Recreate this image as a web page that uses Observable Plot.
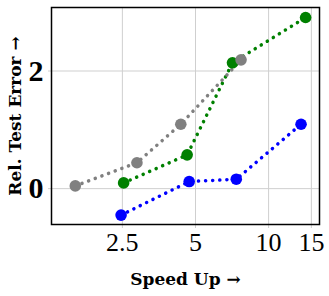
<!DOCTYPE html>
<html>
<head>
<meta charset="utf-8">
<script src="https://cdn.jsdelivr.net/npm/d3@7"></script>
<script src="https://cdn.jsdelivr.net/npm/@observablehq/plot@0.6"></script>
<style>
  body { margin: 0; background: #fff; }
  svg { font-family: "Liberation Serif", serif; }
</style>
</head>
<body>
<div id="chart"></div>
<script>
const xTicks = [2.5, 5, 10, 15];
const yTicks = [0, 2];

const grayX = [1.6, 2.87, 4.35, 7.7];
const grayY = [0.046, 0.44, 1.095, 2.19];
const greenX = [2.53, 4.62, 7.1, 14.2];
const greenY = [0.097, 0.574, 2.14, 2.91];
const blueX = [2.47, 4.71, 7.36, 13.6];
const blueY = [-0.45, 0.12, 0.16, 1.095];

const seriesNames = ["blue", "green", "gray"];
const seriesColors = ["#1c10f2", "#22a05b", "#808080"];

const xs = {blue: blueX, green: greenX, gray: grayX};
const ys = {blue: blueY, green: greenY, gray: grayY};
const data = seriesNames.flatMap(s => xs[s].map((x, i) => ({s, x, y: ys[s][i]})));

const chart = Plot.plot({
  width: 329,
  height: 296,
  marginLeft: 51,
  marginRight: 10,
  marginTop: 7,
  marginBottom: 72,
  style: {fontFamily: "Liberation Serif, serif", background: "white"},
  x: {type: "log", domain: [1.277, 16.2], ticks: xTicks, tickFormat: d => String(d)},
  y: {domain: [-0.61, 3.08], ticks: yTicks, tickFormat: d => String(d)},
  color: {domain: seriesNames, range: seriesColors},
  marks: [
    Plot.gridX({ticks: xTicks, stroke: "#cfcfcf", strokeOpacity: 1, strokeWidth: 1}),
    Plot.gridY({ticks: yTicks, stroke: "#cfcfcf", strokeOpacity: 1, strokeWidth: 1}),
    Plot.axisX({ticks: xTicks, tickSize: 4, stroke: "#cfcfcf", fill: "black", fontSize: 26, tickPadding: 4, label: null, tickFormat: d => String(d)}),
    Plot.axisY({ticks: yTicks, tickSize: 3, stroke: "#cfcfcf", fill: "black", fontSize: 30, fontWeight: "bold", tickPadding: 5, label: null, tickFormat: d => String(d)}),
    Plot.line(data, {x: "x", y: "y", z: "s", stroke: "s", strokeWidth: 3.5, strokeDasharray: "0.1,7", strokeLinecap: "round"}),
    Plot.dot(data, {x: "x", y: "y", fill: "s", r: 5.8}),
    Plot.frame({stroke: "black", strokeWidth: 1.5}),
    Plot.text(["Speed Up →"], {frameAnchor: "bottom", dy: 55, lineAnchor: "middle", textAnchor: "middle", fontSize: 17, fontWeight: "bold", fontFamily: "DejaVu Serif", fill: "black"}),
    Plot.text(["Rel. Test Error →"], {frameAnchor: "left", dx: -36, rotate: -90, lineAnchor: "middle", textAnchor: "middle", fontSize: 17, fontWeight: "bold", fontFamily: "DejaVu Serif", fill: "black"})
  ]
});
document.getElementById("chart").appendChild(chart);
</script>
</body>
</html>
